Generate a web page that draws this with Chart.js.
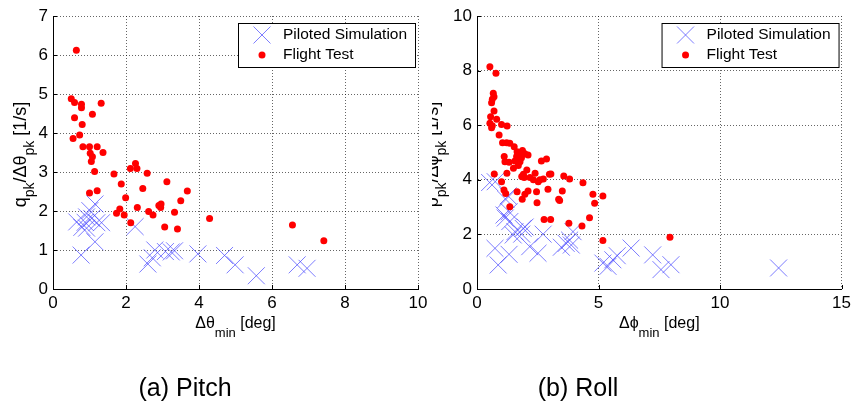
<!DOCTYPE html>
<html>
<head>
<meta charset="utf-8">
<script src="https://cdn.jsdelivr.net/npm/chart.js@4"></script>
<style>
  body { margin: 0; background: #fff; }
  #wrap { position: relative; width: 855px; height: 404px; overflow: hidden; }
  canvas { position: absolute; top: 0; }
  #pitch { left: 0; }
  #roll { left: 432px; }
</style>
</head>
<body>
<div id="wrap">
  <canvas id="pitch" width="432" height="404"></canvas>
  <canvas id="roll" width="423" height="404"></canvas>
</div>
<script>
// pitch: piloted simulation
const pitchSimX = [0.65, 0.77, 0.79, 0.88, 0.92, 0.92, 1.01, 1.06, 1.15, 1.20, 1.33, 1.15, 2.25, 2.60, 2.72, 2.79, 3.08, 3.24, 3.33, 3.97, 4.70, 4.99, 5.57, 6.69, 6.96];
const pitchSimY = [1.72, 0.87, 1.58, 1.71, 1.85, 1.56, 2.01, 1.81, 2.18, 1.70, 1.70, 1.21, 1.60, 0.64, 0.80, 1.00, 0.96, 0.95, 0.98, 0.90, 0.86, 0.62, 0.34, 0.62, 0.53];
// pitch: flight test
const pitchFtX = [0.64, 0.50, 0.59, 0.78, 0.78, 1.32, 0.59, 1.08, 0.80, 0.73, 0.55, 0.82, 1.00, 1.21, 1.02, 1.08, 1.05, 1.37, 1.14, 1.00, 1.21, 1.67, 2.12, 2.26, 2.30, 2.58, 1.87, 2.46, 3.12, 3.68, 1.99, 1.83, 1.74, 1.95, 2.13, 2.31, 2.62, 2.74, 2.90, 2.96, 2.95, 3.33, 3.50, 3.06, 3.41, 4.29, 6.56, 7.42];
const pitchFtY = [6.12, 4.88, 4.78, 4.74, 4.65, 4.76, 4.39, 4.48, 4.22, 3.95, 3.86, 3.65, 3.65, 3.65, 3.48, 3.39, 3.27, 3.50, 3.01, 2.46, 2.52, 2.95, 3.09, 3.22, 3.09, 2.97, 2.69, 2.58, 2.75, 2.51, 2.34, 2.05, 1.94, 1.90, 1.70, 2.09, 1.99, 1.90, 2.14, 2.18, 2.09, 1.97, 2.26, 1.59, 1.54, 1.81, 1.64, 1.24];

// roll: piloted simulation
const rollSimX = [0.52, 0.75, 1.28, 1.19, 1.32, 1.11, 1.35, 1.16, 1.56, 1.90, 1.49, 1.98, 1.84, 2.17, 2.72, 2.51, 0.74, 0.87, 1.32, 3.47, 3.67, 3.81, 3.95, 3.88, 5.18, 5.39, 5.59, 5.77, 6.34, 7.23, 7.57, 7.98, 12.41];
const rollSimY = [3.90, 3.93, 3.41, 3.28, 2.83, 2.71, 2.47, 2.60, 2.10, 2.22, 1.98, 2.27, 2.01, 1.55, 2.01, 1.31, 1.49, 0.88, 1.27, 1.53, 1.67, 1.79, 2.10, 1.61, 0.95, 0.83, 1.07, 1.22, 1.50, 1.25, 0.71, 0.89, 0.77];
// roll: flight test
const rollFtX = [0.53, 0.78, 0.67, 0.70, 0.63, 0.60, 0.70, 0.56, 0.53, 0.63, 0.60, 0.81, 1.01, 1.24, 0.91, 1.05, 1.22, 1.35, 1.53, 1.65, 1.87, 1.97, 2.10, 1.12, 1.15, 1.32, 1.56, 1.63, 1.76, 2.65, 2.86,
  1.70, 2.05, 1.50, 1.23, 0.71, 1.01, 1.11, 1.18, 1.35, 1.65, 1.86, 1.97, 2.10, 2.45, 2.47, 2.92, 3.36, 3.40, 3.51, 2.76, 3.03, 3.78, 4.32, 4.63, 4.77, 4.84, 4.36, 3.57, 3.81, 5.18, 5.18, 7.94,
  1.84, 1.94, 1.91, 2.39, 2.18, 2.32, 2.59, 2.52, 2.73, 2.98, 3.04, 1.77, 1.83];
const rollFtY = [8.14, 7.90, 7.17, 7.04, 6.95, 6.82, 6.52, 6.31, 6.07, 5.98, 5.91, 6.22, 6.03, 5.97, 5.64, 5.36, 5.36, 5.34, 5.21, 5.03, 5.07, 4.95, 4.91, 4.85, 4.66, 4.64, 4.69, 4.85, 4.93, 4.69, 4.76,
  4.52, 4.36, 4.42, 4.24, 4.21, 3.93, 3.63, 3.50, 3.01, 3.56, 3.29, 3.47, 3.59, 3.56, 3.16, 3.65, 3.29, 3.24, 3.59, 2.55, 2.55, 2.41, 2.31, 2.61, 3.47, 3.14, 3.89, 4.14, 4.03, 3.41, 1.78, 1.90,
  4.12, 4.08, 4.20, 4.24, 4.08, 4.00, 4.00, 3.93, 4.03, 4.20, 4.21, 4.66, 4.81];

const seriesNames = ['Piloted Simulation', 'Flight Test'];

const FONT = '"Liberation Sans", Arial, sans-serif';
const SIM_COLOR = 'rgba(70, 70, 255, 0.7)';
const FT_COLOR = '#ff0000';

const zip = (xs, ys) => xs.map((x, i) => ({ x, y: ys[i] }));

// text with subscripts, centred on x
function drawRich(ctx, parts, x, y, size, subSize, subShift) {
  const fonts = parts.map(([, sub]) => `${sub ? subSize : size}px ${FONT}`);
  let w = 0;
  parts.forEach(([t], i) => { ctx.font = fonts[i]; w += ctx.measureText(t).width; });
  let cx = x - w / 2;
  ctx.textAlign = 'left';
  ctx.textBaseline = 'alphabetic';
  parts.forEach(([t, sub], i) => {
    ctx.font = fonts[i];
    ctx.fillText(t, cx, y + (sub ? subShift : 0));
    cx += ctx.measureText(t).width;
  });
}

function decor(opts) {
  return {
    id: 'decor',
    afterDraw(chart) {
      const ctx = chart.ctx;
      const a = chart.chartArea;
      const xs = chart.scales.x, ys = chart.scales.y;
      ctx.save();

      // inward tick marks
      ctx.strokeStyle = '#000';
      ctx.lineWidth = 1;
      ctx.beginPath();
      xs.ticks.forEach(t => {
        const px = Math.round(xs.getPixelForValue(t.value)) + 0.5;
        ctx.moveTo(px, a.bottom); ctx.lineTo(px, a.bottom - 4);
      });
      ys.ticks.forEach(t => {
        const py = Math.round(ys.getPixelForValue(t.value)) + 0.5;
        ctx.moveTo(a.left, py); ctx.lineTo(a.left + 4, py);
      });
      ctx.stroke();

      // axis titles
      ctx.fillStyle = '#000';
      drawRich(ctx, opts.xTitle, (a.left + a.right) / 2, 328, 16, 13, 9);
      ctx.save();
      ctx.translate(opts.yTitleX, (a.top + a.bottom) / 2 + 2);
      ctx.rotate(-Math.PI / 2);
      drawRich(ctx, opts.yTitle, 0, 6, 18, 14, 8);
      ctx.restore();

      // caption
      ctx.font = `25px ${FONT}`;
      ctx.textAlign = 'center';
      ctx.textBaseline = 'alphabetic';
      ctx.fillText(opts.caption, opts.captionX, 396);

      // legend box
      const bx = a.right - 180, by = 23, bw = 177, bh = 44;
      ctx.fillStyle = '#fff';
      ctx.fillRect(bx, by, bw, bh);
      ctx.strokeStyle = '#000';
      ctx.strokeRect(bx + 0.5, by + 0.5, bw, bh);
      ctx.strokeStyle = SIM_COLOR;
      ctx.beginPath();
      const r = 12 * Math.SQRT1_2;
      ctx.moveTo(bx + 24 - r, by + 12 - r); ctx.lineTo(bx + 24 + r, by + 12 + r);
      ctx.moveTo(bx + 24 - r, by + 12 + r); ctx.lineTo(bx + 24 + r, by + 12 - r);
      ctx.stroke();
      ctx.fillStyle = FT_COLOR;
      ctx.beginPath();
      ctx.arc(bx + 24, by + 32, 3.5, 0, Math.PI * 2);
      ctx.fill();
      ctx.fillStyle = '#000';
      ctx.font = `15.5px ${FONT}`;
      ctx.textAlign = 'left';
      ctx.textBaseline = 'middle';
      ctx.fillText(seriesNames[0], bx + 45, by + 12);
      ctx.fillText(seriesNames[1], bx + 45, by + 32);
      ctx.restore();
    }
  };
}

function makeChart(id, o) {
  const tickFont = { family: FONT, size: 17 };
  return new Chart(document.getElementById(id), {
    type: 'scatter',
    data: {
      datasets: [
        {
          label: seriesNames[0],
          data: zip(o.simX, o.simY),
          pointStyle: 'crossRot',
          pointRadius: 12,
          borderColor: SIM_COLOR,
          backgroundColor: 'transparent',
          borderWidth: 1,
          order: 2,
        },
        {
          label: seriesNames[1],
          data: zip(o.ftX, o.ftY),
          pointStyle: 'circle',
          pointRadius: 3.5,
          backgroundColor: FT_COLOR,
          borderWidth: 0,
          order: 1,
        },
      ],
    },
    options: {
      responsive: false,
      animation: false,
      events: [],
      layout: { padding: { left: 0, right: o.padRight, top: 16, bottom: 0 } },
      scales: {
        x: {
          type: 'linear',
          min: 0,
          max: o.xMax,
          ticks: { stepSize: o.xStep, padding: 4, color: '#000', font: tickFont },
          grid: { color: 'rgba(0,0,0,0.6)', drawTicks: false },
          border: { color: '#000', dash: [1, 2] },
          afterFit: s => { s.height = 404 - 289; },
        },
        y: {
          type: 'linear',
          min: 0,
          max: o.yMax,
          ticks: { stepSize: o.yStep, padding: 5, color: '#000', font: tickFont },
          grid: { color: 'rgba(0,0,0,0.6)', drawTicks: false },
          border: { color: '#000', dash: [1, 2] },
          afterFit: s => { s.width = o.yWidth; },
        },
      },
      plugins: { legend: { display: false }, tooltip: { enabled: false } },
    },
    plugins: [decor(o)],
  });
}

makeChart('pitch', {
  simX: pitchSimX, simY: pitchSimY, ftX: pitchFtX, ftY: pitchFtY,
  xMax: 10, xStep: 2, yMax: 7, yStep: 1,
  yWidth: 53, padRight: 14,
  xTitle: [['Δθ', false], ['min', true], [' [deg]', false]],
  yTitle: [['q', false], ['pk', true], ['/Δθ', false], ['pk', true], [' [1/s]', false]],
  yTitleX: 20,
  caption: '(a) Pitch', captionX: 185,
});

makeChart('roll', {
  simX: rollSimX, simY: rollSimY, ftX: rollFtX, ftY: rollFtY,
  xMax: 15, xStep: 5, yMax: 10, yStep: 2,
  yWidth: 45, padRight: 12,
  xTitle: [['Δϕ', false], ['min', true], [' [deg]', false]],
  yTitle: [['p', false], ['pk', true], ['/Δϕ', false], ['pk', true], [' [1/s]', false]],
  yTitleX: 0,
  caption: '(b) Roll', captionX: 578 - 432,
});
</script>
</body>
</html>
